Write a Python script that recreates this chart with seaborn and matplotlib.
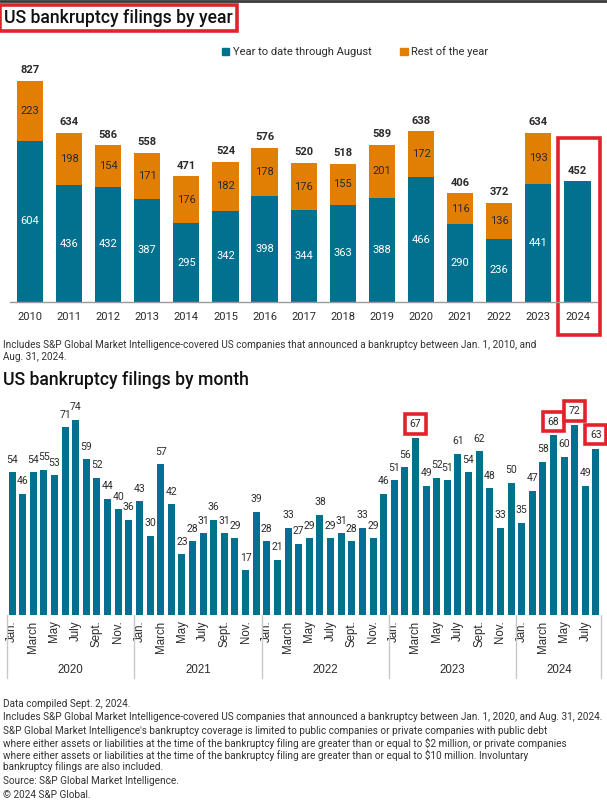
import matplotlib
matplotlib.use("Agg")
import matplotlib.pyplot as plt
import matplotlib.transforms as mtrans
from matplotlib.patches import Patch, Rectangle
from matplotlib.lines import Line2D
import seaborn as sns
import pandas as pd

# ---------------- data ----------------
years = ["2010", "2011", "2012", "2013", "2014", "2015", "2016", "2017",
         "2018", "2019", "2020", "2021", "2022", "2023", "2024"]
ytd_through_aug = [604, 436, 432, 387, 295, 342, 398, 344, 363, 388, 466, 290, 236, 441, 452]
rest_of_year = [223, 198, 154, 171, 176, 182, 178, 176, 155, 201, 172, 116, 136, 193, 0]

month_names = ["Jan.", "Feb.", "March", "April", "May", "June",
               "July", "Aug.", "Sept.", "Oct.", "Nov.", "Dec."]
month_years = ["2020", "2021", "2022", "2023", "2024"]
m2020 = [54, 46, 54, 55, 53, 71, 74, 59, 52, 44, 40, 36]
m2021 = [43, 30, 57, 42, 23, 28, 31, 36, 31, 29, 17, 39]
m2022 = [28, 21, 33, 27, 29, 38, 29, 31, 28, 33, 29, 46]
m2023 = [51, 56, 67, 49, 52, 51, 61, 54, 62, 48, 33, 50]
m2024 = [35, 47, 58, 68, 60, 72, 49, 63]
highlighted = [("2023", "March"), ("2024", "April"), ("2024", "June"), ("2024", "Aug.")]

TEAL = "#02718f"
ORANGE = "#e17e04"
RED = "#e2222b"
TXT = "#2b2b2b"

sns.set_theme(style="white")
plt.rcParams['font.family'] = ['Roboto', 'DejaVu Sans']

W, H = 607, 805
fig = plt.figure(figsize=(W / 100, H / 100), dpi=100)


def px_axes(left, top, right, bottom):
    return fig.add_axes([left / W, 1 - bottom / H, (right - left) / W, (bottom - top) / H])


# top border line
fig.add_artist(Line2D([0, 1], [1 - 1 / H, 1 - 1 / H], transform=fig.transFigure,
                      color="#3a3a3a", lw=2))

# ---------------- yearly chart ----------------
ax1 = px_axes(10.4, 70, 597, 302)
df1 = pd.DataFrame({"year": years, "ytd": ytd_through_aug,
                    "total": [a + b for a, b in zip(ytd_through_aug, rest_of_year)]})
sns.barplot(data=df1, x="year", y="total", color=ORANGE, width=0.67, saturation=1,
            linewidth=0, ax=ax1)
sns.barplot(data=df1, x="year", y="ytd", color=TEAL, width=0.67, saturation=1,
            linewidth=0, ax=ax1)
ax1.set_xlim(-0.5, len(years) - 0.5)
ax1.set_ylim(0, 868)
ax1.set_xlabel("")
ax1.set_ylabel("")
ax1.set_yticks([])
for s in ["top", "left", "right"]:
    ax1.spines[s].set_visible(False)
ax1.spines["bottom"].set_color("#9a9a9a")
ax1.spines["bottom"].set_linewidth(1)
ax1.tick_params(axis="x", length=0, pad=7, labelsize=8, labelcolor=TXT)

for i, (a, b) in enumerate(zip(ytd_through_aug, rest_of_year)):
    if b > 0:
        ax1.text(i, a / 2, str(a), ha="center", va="center", color="white", fontsize=8)
        ax1.text(i, a + b / 2, str(b), ha="center", va="center", color=TXT, fontsize=8)
    ax1.annotate(str(a + b), (i, a + b), xytext=(0, 4), textcoords="offset points",
                 ha="center", va="bottom", color=TXT, fontsize=8, fontweight="bold")

# red box around 2024
ax1.add_patch(Rectangle((len(years) - 1.5, -123), 1.07, 737, fill=False, ec=RED,
                        lw=2.6, clip_on=False))

handles = [Patch(color=TEAL, label="Year to date through August"),
           Patch(color=ORANGE, label="Rest of the year")]
fig.legend(handles=handles, loc="center", bbox_to_anchor=(355 / W, 1 - 52 / H), ncol=2,
           frameon=False, fontsize=8, handlelength=0.7, handleheight=0.7,
           handletextpad=0.3, columnspacing=2.6, labelcolor=TXT)

fig.text(4 / W, 1 - 18 / H, "US bankruptcy filings by year", fontsize=12.7,
         fontweight="medium", color="#111111", ha="left", va="center",
         bbox=dict(boxstyle="square,pad=0.25", fc="white", ec=RED, lw=2.6))

FOOT = 7.2
fig.text(3 / W, 1 - 345 / H,
         "Includes S&P Global Market Intelligence-covered US companies that announced a bankruptcy between Jan. 1, 2010, and",
         fontsize=FOOT, color="#333333", ha="left", va="center")
fig.text(3 / W, 1 - 357 / H, "Aug. 31, 2024.", fontsize=FOOT, color="#333333",
         ha="left", va="center")

# ---------------- monthly chart ----------------
fig.text(3 / W, 1 - 380 / H, "US bankruptcy filings by month", fontsize=12.7,
         fontweight="medium", color="#111111", ha="left", va="center")

monthly = [m2020, m2021, m2022, m2023, m2024]
rows = []
for yr, vals in zip(month_years, monthly):
    for k, v in enumerate(vals):
        rows.append({"key": f"{yr}-{k + 1:02d}", "year": yr, "month": month_names[k], "value": v})
df2 = pd.DataFrame(rows)

ax2 = px_axes(6.7, 400, 601.3, 615)
sns.barplot(data=df2, x="key", y="value", color=TEAL, width=0.66, saturation=1,
            linewidth=0, ax=ax2)
n = len(df2)
ax2.set_xlim(-0.5, n - 0.5)
ax2.set_ylim(0, 81.4)
ax2.set_xlabel("")
ax2.set_ylabel("")
ax2.set_yticks([])
for s in ["top", "left", "right", "bottom"]:
    ax2.spines[s].set_visible(False)

tick_idx = [i for i in range(n) if (i % 12) % 2 == 0]
ax2.set_xticks(tick_idx)
ax2.set_xticklabels([df2["month"][i] for i in tick_idx], rotation=90, fontsize=8.3,
                    color=TXT, va="top", ha="center", family=["Liberation Sans", "DejaVu Sans"])
ax2.tick_params(axis="x", length=0, pad=4)

hl = set(highlighted)
for i, r in df2.iterrows():
    if (r["year"], r["month"]) in hl:
        ax2.annotate(str(r["value"]), (i, r["value"]), xytext=(0, 10), textcoords="offset points",
                     ha="center", va="center", fontsize=7.5, color=TXT, annotation_clip=False,
                     bbox=dict(boxstyle="square,pad=0.45", fc="white", ec=RED, lw=2.6))
    else:
        ax2.annotate(str(r["value"]), (i, r["value"]), xytext=(0, 9), textcoords="offset points",
                     ha="center", va="center", fontsize=7.5, color=TXT)

trans = mtrans.blended_transform_factory(ax2.transData, ax2.transAxes)
counts = [len(v) for v in monthly]
start = 0
bounds = [-0.5]
for yr, c in zip(month_years, counts):
    ax2.text(start + (c - 1) / 2, -0.255, yr, transform=trans, ha="center", va="center",
             fontsize=8.3, color=TXT, family=["Liberation Sans", "DejaVu Sans"])
    start += c
    bounds.append(start - 0.5)
for b in bounds:
    ax2.add_line(Line2D([b, b], [0, -0.293], transform=trans, color="#c8c8c8",
                        lw=1, clip_on=False))

foot = [
    (704, "Data compiled Sept. 2, 2024."),
    (717, "Includes S&P Global Market Intelligence-covered US companies that announced a bankruptcy between Jan. 1, 2020, and Aug. 31, 2024."),
    (731, "S&P Global Market Intelligence's bankruptcy coverage is limited to public companies or private companies with public debt"),
    (743, "where either assets or liabilities at the time of the bankruptcy filing are greater than or equal to $2 million, or private companies"),
    (755, "where either assets or liabilities at the time of the bankruptcy filing are greater than or equal to $10 million. Involuntary"),
    (767, "bankruptcy filings are also included."),
    (781, "Source: S&P Global Market Intelligence."),
    (795, "\u00a9 2024 S&P Global."),
]
for y, t in foot:
    fig.text(3 / W, 1 - y / H, t, fontsize=FOOT, color="#333333", ha="left", va="center")

fig.savefig("out.png", dpi=100)
